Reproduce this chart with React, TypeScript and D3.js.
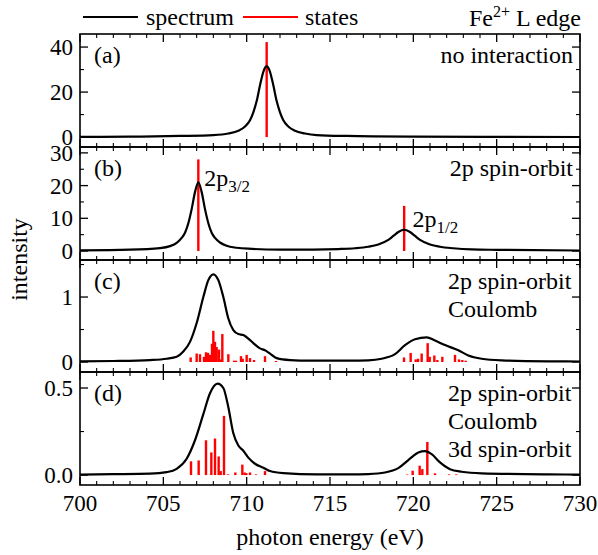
import React from "react";
import * as d3 from "d3";

// ---------- data ----------
const xTicks = [700, 705, 710, 715, 720, 725, 730];

// panel (a): no interaction
const specA: [number, number][] = [
  [700, 0.1], [703, 0.2], [706, 0.5], [708, 0.9], [708.9, 1.6], [709.5, 2.8], [709.9, 4.7],
  [710.2, 7.5], [710.4, 11], [710.6, 16], [710.8, 23], [711.0, 29], [711.2, 31.5], [711.4, 29],
  [711.6, 23], [711.8, 16], [712.0, 11], [712.2, 7.5], [712.5, 4.7], [712.9, 2.8], [713.5, 1.6],
  [714.2, 0.9], [716, 0.5], [720, 0.2], [725, 0.1], [730, 0.05],
];
const sticksA: [number, number][] = [[711.2, 42.2]];

// panel (b): 2p spin-orbit
const specB: [number, number][] = [
  [700, 0.2], [703, 0.4], [704.8, 0.9], [705.4, 1.5], [705.8, 2.5], [706.1, 4], [706.3, 5.6],
  [706.5, 8.5], [706.7, 12.8], [706.9, 18], [707.1, 21], [707.3, 18], [707.5, 12.8], [707.7, 8.5],
  [707.9, 5.6], [708.1, 4], [708.4, 2.6], [708.8, 1.6], [709.4, 1.0], [710.1, 0.7], [712, 0.45],
  [714, 0.45], [715.5, 0.6], [716.5, 0.85], [717.3, 1.3], [717.9, 2.0], [718.5, 3.4], [718.8, 4.6],
  [719.1, 5.8], [719.45, 6.5], [719.8, 5.8], [720.1, 4.6], [720.4, 3.4], [721.0, 2.0], [721.6, 1.3],
  [722.4, 0.85], [723.5, 0.5], [725, 0.35], [730, 0.15],
];
const sticksB: [number, number][] = [[707.1, 28], [719.45, 13.8]];

// panel (c): 2p spin-orbit + Coulomb
const specC: [number, number][] = [
  [700, 0.01], [702, 0.015], [704.2, 0.03], [705.2, 0.05], [705.8, 0.08], [706.2, 0.16],
  [706.6, 0.31], [707.0, 0.6], [707.4, 1.0], [707.7, 1.26], [708.0, 1.35], [708.3, 1.26],
  [708.6, 1.0], [708.9, 0.67], [709.2, 0.49], [709.5, 0.43], [709.8, 0.415], [710.1, 0.36],
  [710.4, 0.29], [710.8, 0.21], [711.1, 0.18], [711.4, 0.13], [711.8, 0.06], [712.6, 0.03],
  [713.8, 0.02], [716.2, 0.02], [717.3, 0.025], [718.1, 0.05], [718.9, 0.12], [719.5, 0.26],
  [720.1, 0.35], [720.8, 0.38], [721.3, 0.33], [721.9, 0.26], [722.7, 0.18], [723.3, 0.1],
  [724.1, 0.05], [725.3, 0.025], [728.1, 0.01], [730, 0.008],
];
const sticksC: [number, number][] = [
  [706.64, 0.07], [707.0, 0.13], [707.2, 0.12], [707.44, 0.08], [707.56, 0.15], [707.68, 0.14],
  [707.8, 0.11], [707.92, 0.28], [708.0, 0.48], [708.1, 0.31], [708.2, 0.23], [708.34, 0.19],
  [708.44, 0.04], [708.54, 0.43], [708.9, 0.12], [709.24, 0.02], [709.36, 0.02], [709.66, 0.09],
  [709.76, 0.05], [710.0, 0.11], [710.2, 0.06], [710.44, 0.03], [711.1, 0.09], [711.76, 0.015],
  [719.44, 0.07], [719.84, 0.14], [720.14, 0.04], [720.28, 0.05], [720.5, 0.13], [720.86, 0.29],
  [720.98, 0.08], [721.26, 0.1], [721.44, 0.03], [721.74, 0.08], [722.5, 0.11], [722.74, 0.04],
  [722.94, 0.03], [723.14, 0.02],
];

// panel (d): 2p spin-orbit + Coulomb + 3d spin-orbit
const specD: [number, number][] = [
  [700, 0.003], [702, 0.005], [704.2, 0.008], [705.2, 0.017], [705.8, 0.036], [706.4, 0.094],
  [706.9, 0.2], [707.4, 0.35], [707.8, 0.47], [708.26, 0.525], [708.6, 0.5], [708.9, 0.39],
  [709.2, 0.24], [709.5, 0.17], [709.8, 0.14], [710.1, 0.1], [710.5, 0.065], [711.0, 0.042],
  [711.4, 0.023], [712.2, 0.011], [714.2, 0.004], [716.2, 0.004], [717.3, 0.006], [718.3, 0.015],
  [719.1, 0.04], [719.7, 0.086], [720.3, 0.13], [720.7, 0.138], [721.1, 0.12], [721.6, 0.073],
  [722.2, 0.034], [722.9, 0.019], [724.1, 0.01], [728.1, 0.004], [730, 0.003],
];
const sticksD: [number, number][] = [
  [706.66, 0.079], [707.12, 0.084], [707.56, 0.2], [707.88, 0.13], [708.1, 0.21], [708.32, 0.107],
  [708.44, 0.023], [708.64, 0.34], [708.88, 0.004], [709.32, 0.015], [709.74, 0.06], [709.88, 0.015],
  [709.98, 0.011], [710.2, 0.015], [710.56, 0.004], [711.1, 0.023],
  [719.64, 0.003], [719.96, 0.025], [720.38, 0.054], [720.54, 0.034], [720.84, 0.19], [721.3, 0.01],
  [722.14, 0.004], [722.58, 0.004],
];

const yMajorA = [0, 20, 40];
const yMajorB = [0, 10, 20, 30];
const yMajorC = [0, 1];
const yMajorD = [0, 0.5];
const yMinorA = [10, 30];
const yMinorB = [5, 15, 25];
const yMinorC = [0.5, 1.5];
const yMinorD = [0.25];
const yLabelsA = ["0", "20", "40"];
const yLabelsB = ["0", "10", "20", "30"];
const yLabelsC = ["0", "1"];
const yLabelsD = ["0.0", "0.5"];

// ---------- layout ----------
const W = 598;
const H = 555;
const left = 80;
const right = 580;
const FONT = "Liberation Serif, Times New Roman, DejaVu Serif, serif";
const fontStyle = { fontFamily: FONT };

const x = d3.scaleLinear().domain([700, 730]).range([left, right]);
const xMinor = d3.range(700, 731, 1).filter((v) => v % 5 !== 0);

type Panel = {
  top: number;
  bottom: number;
  domain: [number, number];
  spec: [number, number][];
  sticks: [number, number][];
  major: number[];
  minor: number[];
  labels: string[];
  tag: string;
  notes: string[];
};

const panels: Panel[] = [
  { top: 34, bottom: 147, domain: [-4.4, 45.8], spec: specA, sticks: sticksA, major: yMajorA, minor: yMinorA, labels: yLabelsA, tag: "(a)", notes: ["no interaction"] },
  { top: 147, bottom: 260, domain: [-2.75, 31.8], spec: specB, sticks: sticksB, major: yMajorB, minor: yMinorB, labels: yLabelsB, tag: "(b)", notes: ["2p spin-orbit"] },
  { top: 260, bottom: 372, domain: [-0.154, 1.57], spec: specC, sticks: sticksC, major: yMajorC, minor: yMinorC, labels: yLabelsC, tag: "(c)", notes: ["2p spin-orbit", "Coulomb"] },
  { top: 372, bottom: 485, domain: [-0.057, 0.592], spec: specD, sticks: sticksD, major: yMajorD, minor: yMinorD, labels: yLabelsD, tag: "(d)", notes: ["2p spin-orbit", "Coulomb", "3d spin-orbit"] },
];

const MAJ = 8;
const MIN = 4;

function PanelView({ p, idx }: { p: Panel; idx: number }) {
  const y = d3.scaleLinear().domain(p.domain).range([p.bottom, p.top]);
  const line = d3
    .line<[number, number]>()
    .x((d) => x(d[0]))
    .y((d) => y(d[1]))
    .curve(d3.curveMonotoneX);
  const clipId = `clip${idx}`;
  const multi = p.notes.length > 1;
  return (
    <g>
      <defs>
        <clipPath id={clipId}>
          <rect x={left} y={p.top} width={right - left} height={p.bottom - p.top} />
        </clipPath>
      </defs>
      <g clipPath={`url(#${clipId})`}>
        {p.sticks.map((s, i) => (
          <line key={i} x1={x(s[0])} x2={x(s[0])} y1={y(0)} y2={y(s[1])} stroke="#ff0000" strokeWidth={2.4} />
        ))}
        <path d={line(p.spec) ?? ""} fill="none" stroke="#000" strokeWidth={2.2} strokeLinejoin="round" />
      </g>
      {xTicks.map((t) => (
        <g key={"xt" + t}>
          <line x1={x(t)} x2={x(t)} y1={p.bottom} y2={p.bottom - MAJ} stroke="#000" strokeWidth={1.3} />
          <line x1={x(t)} x2={x(t)} y1={p.top} y2={p.top + MAJ} stroke="#000" strokeWidth={1.3} />
        </g>
      ))}
      {xMinor.map((t) => (
        <g key={"xm" + t}>
          <line x1={x(t)} x2={x(t)} y1={p.bottom} y2={p.bottom - MIN} stroke="#000" strokeWidth={1.1} />
          <line x1={x(t)} x2={x(t)} y1={p.top} y2={p.top + MIN} stroke="#000" strokeWidth={1.1} />
        </g>
      ))}
      {p.major.map((t, i) => (
        <g key={"yt" + t}>
          <line x1={left} x2={left + MAJ} y1={y(t)} y2={y(t)} stroke="#000" strokeWidth={1.3} />
          <line x1={right} x2={right - MAJ} y1={y(t)} y2={y(t)} stroke="#000" strokeWidth={1.3} />
          <text x={left - 7} y={y(t)} dy="0.35em" textAnchor="end" fontSize={23} style={fontStyle}>
            {p.labels[i]}
          </text>
        </g>
      ))}
      {p.minor.map((t) => (
        <g key={"ym" + t}>
          <line x1={left} x2={left + MIN} y1={y(t)} y2={y(t)} stroke="#000" strokeWidth={1.1} />
          <line x1={right} x2={right - MIN} y1={y(t)} y2={y(t)} stroke="#000" strokeWidth={1.1} />
        </g>
      ))}
      <rect x={left} y={p.top} width={right - left} height={p.bottom - p.top} fill="none" stroke="#000" strokeWidth={1.6} />
      <text x={94} y={p.top + 29} fontSize={24} style={fontStyle}>
        {p.tag}
      </text>
      {p.notes.map((n, i) => (
        <text
          key={n}
          x={multi ? 448 : 573}
          y={p.top + 29 + i * 28}
          textAnchor={multi ? "start" : "end"}
          fontSize={24}
          style={fontStyle}
        >
          {n}
        </text>
      ))}
      {idx === 1 && (
        <g fontSize={24} style={fontStyle}>
          <text x={x(707.45)} y={y(20)}>
            2p<tspan fontSize={17} dy={6}>3/2</tspan>
          </text>
          <text x={x(719.95)} y={y(7.3)}>
            2p<tspan fontSize={17} dy={6}>1/2</tspan>
          </text>
        </g>
      )}
    </g>
  );
}

export default function App() {
  return (
    <svg
      width={W}
      height={H}
      viewBox={`0 0 ${W} ${H}`}
      style={{ display: "block", background: "#fff", position: "absolute", left: 0, top: 0 }}
    >
      <rect width={W} height={H} fill="#fff" />
      <line x1={83} x2={138} y1={17} y2={17} stroke="#000" strokeWidth={2.2} />
      <text x={146} y={25} fontSize={24} style={fontStyle}>spectrum</text>
      <line x1={243} x2={298} y1={17} y2={17} stroke="#ff0000" strokeWidth={2.2} />
      <text x={305} y={25} fontSize={24} style={fontStyle}>states</text>
      <text x={581} y={26} textAnchor="end" fontSize={24} style={fontStyle}>
        Fe<tspan fontSize={16} dy={-9}>2+</tspan>
        <tspan dy={9}> L edge</tspan>
      </text>
      {panels.map((p, i) => (
        <PanelView key={i} p={p} idx={i} />
      ))}
      {xTicks.map((t) => (
        <text key={t} x={x(t)} y={511} textAnchor="middle" fontSize={23} style={fontStyle}>
          {t}
        </text>
      ))}
      <text x={(left + right) / 2} y={545} textAnchor="middle" fontSize={24} style={fontStyle}>
        photon energy (eV)
      </text>
      <text
        transform={`translate(27, ${(34 + 485) / 2}) rotate(-90)`}
        textAnchor="middle"
        fontSize={24}
        style={fontStyle}
      >
        intensity
      </text>
    </svg>
  );
}
